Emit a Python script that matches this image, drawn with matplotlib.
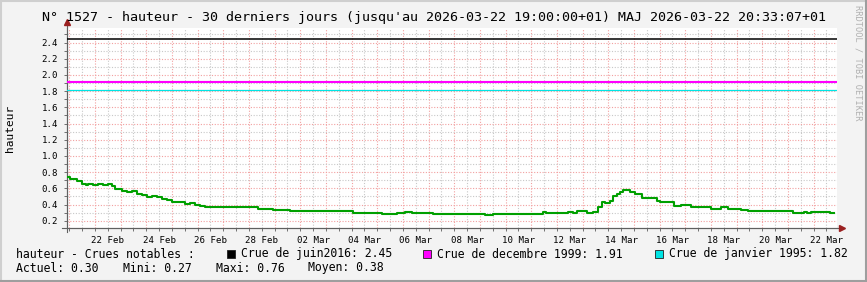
import matplotlib
matplotlib.use("Agg")
import matplotlib.pyplot as plt
import matplotlib.dates as mdates
from matplotlib.ticker import MultipleLocator, FuncFormatter, NullFormatter
from matplotlib.patches import Rectangle
from matplotlib.lines import Line2D
import pandas as pd

# ---------------- data ----------------
times = [
    "2026-02-20 21:50", "2026-02-21 00:40", "2026-02-21 06:55", "2026-02-21 11:35",
    "2026-02-21 15:37", "2026-02-21 17:47", "2026-02-21 22:10", "2026-02-22 02:51",
    "2026-02-22 07:32", "2026-02-22 12:13", "2026-02-22 15:41", "2026-02-22 18:46",
    "2026-02-23 01:02", "2026-02-23 05:43", "2026-02-23 10:23", "2026-02-23 15:04",
    "2026-02-23 19:45", "2026-02-24 00:26", "2026-02-24 05:07", "2026-02-24 09:46",
    "2026-02-24 14:27", "2026-02-24 19:08", "2026-02-24 23:48", "2026-02-25 12:15",
    "2026-02-25 16:56", "2026-02-25 21:37", "2026-02-26 02:18", "2026-02-26 06:59",
    "2026-02-28 08:34", "2026-02-28 16:42", "2026-02-28 22:52", "2026-03-01 14:31",
    "2026-03-04 01:26", "2026-03-05 04:34", "2026-03-05 18:43", "2026-03-06 02:10",
    "2026-03-06 08:38", "2026-03-07 04:19", "2026-03-07 18:19", "2026-03-09 05:02",
    "2026-03-09 12:31", "2026-03-11 03:50", "2026-03-11 11:15", "2026-03-11 14:04",
    "2026-03-12 00:21", "2026-03-12 10:38", "2026-03-12 15:20", "2026-03-12 19:05",
    "2026-03-13 04:26", "2026-03-13 10:03", "2026-03-13 14:44", "2026-03-13 18:12",
    "2026-03-13 21:17", "2026-03-14 01:58", "2026-03-14 04:47", "2026-03-14 08:14",
    "2026-03-14 11:20", "2026-03-14 14:08", "2026-03-14 20:41", "2026-03-15 01:22",
    "2026-03-15 07:38", "2026-03-15 12:36", "2026-03-15 21:41", "2026-03-16 00:47",
    "2026-03-16 13:14", "2026-03-16 19:30", "2026-03-17 04:52", "2026-03-17 23:35",
    "2026-03-18 08:57", "2026-03-18 15:30", "2026-03-19 03:40", "2026-03-19 10:14",
    "2026-03-21 04:20", "2026-03-21 14:38", "2026-03-21 17:27", "2026-03-21 21:12",
    "2026-03-22 15:31", "2026-03-22 19:00",
]
hauteur = [
    0.74, 0.71, 0.685, 0.655,
    0.635, 0.65, 0.645, 0.655,
    0.645, 0.65, 0.625, 0.595,
    0.565, 0.55, 0.565, 0.535,
    0.515, 0.495, 0.505, 0.495,
    0.47, 0.45, 0.43, 0.405,
    0.415, 0.395, 0.38, 0.365,
    0.35, 0.34, 0.33, 0.315,
    0.30, 0.285, 0.29, 0.31,
    0.30, 0.285, 0.277, 0.27,
    0.277, 0.282, 0.31, 0.30,
    0.295, 0.31, 0.295, 0.315,
    0.295, 0.31, 0.365, 0.435,
    0.42, 0.445, 0.50, 0.53,
    0.555, 0.575, 0.55, 0.53,
    0.48, 0.475, 0.44, 0.425,
    0.385, 0.39, 0.365, 0.35,
    0.365, 0.35, 0.335, 0.315,
    0.295, 0.31, 0.295, 0.305,
    0.297, 0.297,
]

crue_labels = ["Crue de juin2016", "Crue de decembre 1999", "Crue de janvier 1995"]
crue_values = [2.45, 1.91, 1.82]
crue_colors = ["#000000", "#ff00ff", "#00e4e4"]
crue_widths = [1.1, 1.5, 0.9]

stats_labels = ["Actuel", "Mini", "Maxi", "Moyen"]
stats_values = [0.30, 0.27, 0.76, 0.38]

view_start = "2026-02-20 21:50"
view_days = 30
title = ("N° 1527 - hauteur - 30 derniers jours (jusqu'au 2026-03-22 19:00:00+01) "
         "MAJ 2026-03-22 20:33:07+01")

# ---------------- figure ----------------
W, H = 867, 282
MONO = "DejaVu Sans Mono"
plt.rcParams["font.family"] = MONO

fig = plt.figure(figsize=(W / 100, H / 100), dpi=100, facecolor="#f3f3f3")

def fx(px):
    return px / W

def fy(py):
    return 1 - py / H

# 3D style frame
fig.add_artist(Line2D([0, 1], [fy(0.5), fy(0.5)], color="#cfcfcf", lw=1.5, transform=fig.transFigure))
fig.add_artist(Line2D([fx(0.5), fx(0.5)], [0, 1], color="#cfcfcf", lw=1.5, transform=fig.transFigure))
fig.add_artist(Line2D([0, 1], [fy(H - 0.8), fy(H - 0.8)], color="#9e9e9e", lw=1.5, transform=fig.transFigure))
fig.add_artist(Line2D([fx(W - 0.8), fx(W - 0.8)], [0, 1], color="#9e9e9e", lw=1.5, transform=fig.transFigure))

L, R, T, B = 67, 837, 28, 228
ax = fig.add_axes([fx(L), fy(B), (R - L) / W, (B - T) / H])
ax.set_facecolor("white")

x = mdates.date2num(pd.to_datetime(times))
t0 = pd.Timestamp(view_start)
t1 = t0 + pd.Timedelta(days=view_days)
ax.set_xlim(mdates.date2num(t0), mdates.date2num(t1))
ax.set_ylim(0.11, 2.58)

# grid
ax.xaxis.set_major_locator(mdates.DayLocator())
ax.xaxis.set_minor_locator(mdates.HourLocator(byhour=[12]))
ax.xaxis.set_major_formatter(NullFormatter())

def xlab(v, pos):
    d = mdates.num2date(v)
    return d.strftime("%d %b") if d.day % 2 == 0 else ""

ax.xaxis.set_minor_formatter(FuncFormatter(xlab))
ax.yaxis.set_major_locator(MultipleLocator(0.2))
ax.yaxis.set_minor_locator(MultipleLocator(0.1))
ax.yaxis.set_major_formatter(FuncFormatter(lambda v, p: f"{v:.1f}"))

dot = (0, (1, 1.5))
ax.grid(which="minor", color="#c8c8c8", lw=0.8, ls=dot, zorder=0)
ax.grid(which="major", color="#f2a0a0", lw=0.8, ls=dot, zorder=0)
ax.set_axisbelow(True)

ax.tick_params(which="both", direction="out", length=2, width=0.7, color="#707070",
               labelsize=6.6, labelcolor="black")
ax.tick_params(axis="y", which="major", pad=4.5)
ax.tick_params(axis="x", which="minor", pad=3.5)

for s in ["top", "right"]:
    ax.spines[s].set_visible(False)
for s in ["left", "bottom"]:
    ax.spines[s].set_color("#606060")
    ax.spines[s].set_linewidth(0.8)

# axis extensions + arrows
ax.add_line(Line2D([0, 0], [-0.02, 1.02], transform=ax.transAxes, color="#606060",
                   lw=0.8, clip_on=False))
ax.add_line(Line2D([-0.006, 1.004], [0, 0], transform=ax.transAxes, color="#606060",
                   lw=0.8, clip_on=False))
ax.plot([0], [1.03], marker="^", ms=4.5, color="#9a2020", transform=ax.transAxes, clip_on=False)
ax.plot([1.007], [0], marker=">", ms=4.5, color="#9a2020", transform=ax.transAxes, clip_on=False)

# threshold lines
for v, c, w in zip(crue_values, crue_colors, crue_widths):
    ax.axhline(v, color=c, lw=w, zorder=3)

# data
ax.step(x, hauteur, where="post", color="#00a000", lw=1.5, zorder=4)

# texts
fig.text(0.5, fy(18), title, ha="center", va="center", fontsize=9.6, family=MONO)
fig.text(fx(10), fy(128), "hauteur", rotation=90, ha="center", va="center", fontsize=8.0,
         family=MONO)
fig.text(fx(858), fy(5), "RRDTOOL / TOBI OETIKER", rotation=270, ha="center", va="top",
         fontsize=6.2, color="#b0b0b0", family=MONO)

row1, row2 = 254, 268
fig.text(fx(16), fy(row1), "hauteur - Crues notables :", va="center", fontsize=8.3, family=MONO)
sq_x = [227, 423, 655]
tx_x = [241, 437, 669]
for sx, tx, lab, v, c in zip(sq_x, tx_x, crue_labels, crue_values, crue_colors):
    fig.add_artist(Rectangle((fx(sx), fy(row1 + 4)), 8 / W, 8 / H, transform=fig.transFigure,
                             facecolor=c, edgecolor="#202020", lw=0.6))
    fig.text(fx(tx), fy(row1), f"{lab}: {v:.2f}", va="center", fontsize=8.3, family=MONO)

st_x = [16, 123, 216, 308]
for sx, lab, v in zip(st_x, stats_labels, stats_values):
    fig.text(fx(sx), fy(row2), f"{lab}: {v:.2f}", va="center", fontsize=8.3, family=MONO)

fig.savefig("out.png", dpi=100, facecolor=fig.get_facecolor())
